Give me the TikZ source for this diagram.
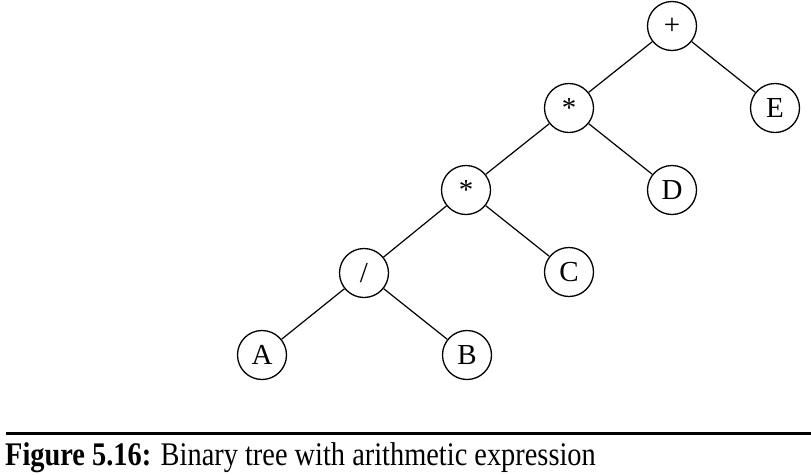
\documentclass[tikz,border=0pt]{standalone}
\usepackage{fontspec}
\setmainfont{Liberation Serif}
\begin{document}
\begin{tikzpicture}[x=1pt,y=-1pt,
  tn/.style={circle,draw,line width=1.3pt,minimum size=49pt,inner sep=0pt,font=\fontsize{29}{32}\selectfont},
  edge/.style={line width=1.2pt}]
\useasboundingbox (0,0) rectangle (811,474);
\node[tn] (p) at (672,26) {+};
\node[tn] (m1) at (569,108) {*};
\node[tn] (e) at (775,108) {E};
\node[tn] (m2) at (466,190) {*};
\node[tn] (d) at (672,190) {D};
\node[tn] (dv) at (364,273) {/};
\node[tn] (c) at (569,272) {C};
\node[tn] (a) at (262,355) {A};
\node[tn] (b) at (467,355) {B};
\draw[edge] (p) -- (m1);
\draw[edge] (p) -- (e);
\draw[edge] (m1) -- (m2);
\draw[edge] (m1) -- (d);
\draw[edge] (m2) -- (dv);
\draw[edge] (m2) -- (c);
\draw[edge] (dv) -- (a);
\draw[edge] (dv) -- (b);
\coordinate (l1) at (6,433.5);
\coordinate (l2) at (811,433.5);
\draw[line width=3pt] (l1) -- (l2);
\node[anchor=base west,inner sep=0pt] (cap) at (5,465) {\scalebox{0.86}[1]{\fontsize{33}{36}\selectfont\textbf{Figure 5.16:} Binary tree with arithmetic expression}};
\end{tikzpicture}
\end{document}
